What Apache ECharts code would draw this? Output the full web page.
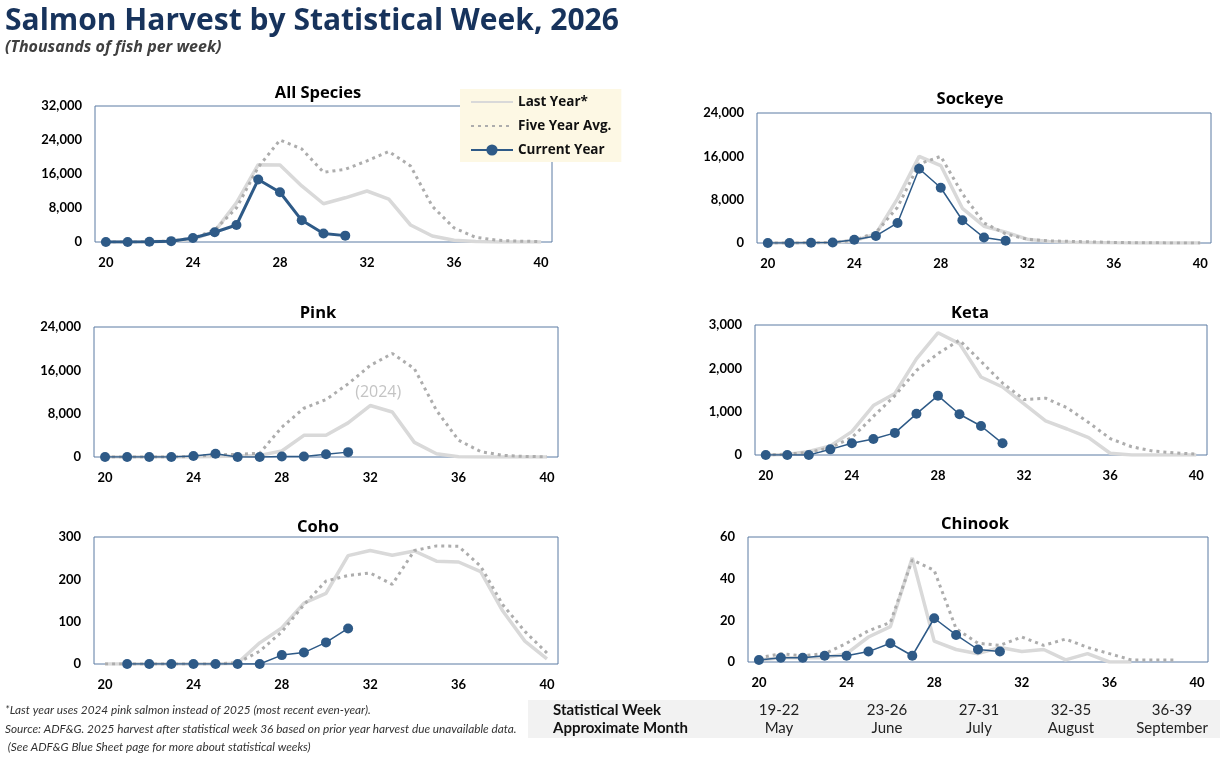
<!DOCTYPE html>
<html>
<head>
<meta charset="utf-8">
<script src="https://cdn.jsdelivr.net/npm/echarts@6/dist/echarts.min.js"></script>
<style>
  body { margin: 0; background: #fff; }
  #main { width: 1220px; height: 758px; }
</style>
</head>
<body>
<div id="main"></div>
<script>
// statistical weeks 20..40
var weeks = ['20','21','22','23','24','25','26','27','28','29','30','31','32','33','34','35','36','37','38','39','40'];

// All species (thousands of fish)
var allLast = [0, 0, 50, 200, 600, 2500, 9200, 18200, 18100, 13200, 9000, 10400, 12000, 10100, 4000, 1400, 400, 100, 0, 0, 0];
var allAvg  = [0, 0, 50, 250, 900, 2800, 8000, 17600, 24000, 21900, 16400, 17100, 19100, 21300, 17900, 8400, 3300, 1100, 400, 200, 100];
var allCur  = [0, 0, 50, 200, 950, 2300, 4000, 14700, 11700, 5100, 2000, 1500];

// Sockeye
var sockLast = [0, 0, 50, 100, 400, 1700, 8200, 16000, 14300, 6400, 3100, 2000, 700, 300, 150, 80, 30, 0, 0, 0, 0];
var sockAvg  = [0, 0, 50, 100, 500, 1900, 6600, 14600, 16000, 9100, 3700, 1700, 700, 400, 300, 200, 100, 60, 30, 10, 10];
var sockCur  = [0, 0, 50, 100, 600, 1300, 3700, 13700, 10200, 4200, 1000, 400];

// Pink (last year = 2024)
var pinkLast = [0, 0, 0, 0, 0, 100, 200, 300, 1100, 4000, 4000, 6300, 9500, 8300, 2700, 600, 50, 0, 0, 0, 0];
var pinkAvg  = [0, 0, 0, 0, 100, 400, 500, 700, 5500, 9000, 10600, 13500, 16900, 19100, 16300, 8600, 3100, 1000, 300, 100, 50];
var pinkCur  = [0, 0, 0, 0, 200, 600, 0, 0, 100, 100, 500, 900];

// Keta
var ketaLast = [0, 10, 80, 210, 540, 1140, 1420, 2220, 2820, 2570, 1800, 1570, 1180, 790, 600, 400, 40, 0, 0, 0, 0];
var ketaAvg  = [0, 20, 60, 170, 400, 890, 1370, 1950, 2340, 2650, 2160, 1660, 1280, 1310, 1090, 750, 380, 190, 90, 50, 20];
var ketaCur  = [0, 0, 0, 130, 270, 370, 510, 950, 1370, 940, 670, 270];

// Coho
var cohoLast = [0, 0, 0, 0, 0, 0, 2, 50, 85, 144, 167, 256, 268, 257, 267, 243, 241, 218, 125, 54, 12];
var cohoAvg  = [0, 0, 0, 0, 0, 0, 3, 30, 76, 140, 196, 209, 215, 188, 268, 279, 278, 231, 140, 77, 26];
var cohoCur  = [null, 0, 0, 0, 0, 0, 0, 0, 21, 27, 51, 84];

// Chinook
var chinLast = [1, 2, 2, 2, 4, 12, 17, 50, 10, 6, 4, 7, 5, 6, 1, 4, 0, 0, null, null, null];
var chinAvg  = [2, 4, 3, 4, 9, 15, 19, 49, 44, 16, 9, 8, 12, 8, 11, 7, 4, 1, 1, 1, null];
var chinCur  = [1, 2, 2, 3, 3, 5, 9, 3, 21, 13, 6, 5];

// bottom table
var tableWeeks  = ['19-22', '23-26', '27-31', '32-35', '36-39'];
var tableMonths = ['May', 'June', 'July', 'August', 'September'];
var tableX = [779, 887, 979, 1071, 1172];

var panels = [
  { title: 'All Species', last: allLast, avg: allAvg, cur: allCur, max: 32000, step: 8000, curW: 3,
    grid: { left: 95, top: 106, width: 457, height: 136 }, tx: 318, ty: 93 },
  { title: 'Sockeye', last: sockLast, avg: sockAvg, cur: sockCur, max: 24000, step: 8000, curW: 1.5,
    grid: { left: 757, top: 113, width: 454, height: 130 }, tx: 970, ty: 99 },
  { title: 'Pink', last: pinkLast, avg: pinkAvg, cur: pinkCur, max: 24000, step: 8000, curW: 1.5,
    grid: { left: 94, top: 327, width: 464, height: 130 }, tx: 318, ty: 313 },
  { title: 'Keta', last: ketaLast, avg: ketaAvg, cur: ketaCur, max: 3000, step: 1000, curW: 1.5,
    grid: { left: 755, top: 325, width: 452, height: 130 }, tx: 970, ty: 313 },
  { title: 'Coho', last: cohoLast, avg: cohoAvg, cur: cohoCur, max: 300, step: 100, curW: 1.5,
    grid: { left: 94, top: 537, width: 464, height: 127 }, tx: 318, ty: 527 },
  { title: 'Chinook', last: chinLast, avg: chinAvg, cur: chinCur, max: 60, step: 20, curW: 1.5,
    grid: { left: 748, top: 537, width: 460, height: 125 }, tx: 975, ty: 524 }
];

var navy = '#2e5a87';
var lightGray = '#d9d9d9';
var dotGray = '#adadad';
var font = 'Lato';
var headFont = '"Open Sans"';

var grids = [], xAxes = [], yAxes = [], series = [];
var graphics = [];

panels.forEach(function(p, i) {
  grids.push(Object.assign({ show: true, borderColor: '#5b7ba3', borderWidth: 1, backgroundColor: 'transparent' }, p.grid));
  xAxes.push({
    type: 'category', gridIndex: i, data: weeks, boundaryGap: true,
    axisLine: { show: false }, axisTick: { show: false },
    axisLabel: { interval: 3, color: '#000', fontWeight: 'bold', fontSize: 13, fontFamily: font, margin: 14 }
  });
  yAxes.push({
    type: 'value', gridIndex: i, min: 0, max: p.max, interval: p.step,
    axisLine: { show: false }, axisTick: { show: false }, splitLine: { show: false },
    axisLabel: { color: '#000', fontWeight: 'bold', fontSize: 13, fontFamily: font, margin: 13,
      formatter: function(v) { return v.toLocaleString('en-US'); } }
  });

  var isPink = p.title === 'Pink';
  var lastData = p.last;
  if (isPink) {
    // label the 2024 stand-in line at its peak
    lastData = p.last.map(function(v, k) {
      if (weeks[k] !== '32') return v;
      return { value: v, label: { show: true, formatter: '(2024)', position: 'top', distance: 5, offset: [8, 0],
        color: '#c4c4c4', fontSize: 16, fontFamily: '"Liberation Sans Narrow", "Open Sans"' } };
    });
  }

  series.push({
    name: 'Last Year*', type: 'line', xAxisIndex: i, yAxisIndex: i, data: lastData,
    symbol: isPink ? 'circle' : 'none', symbolSize: 0, silent: true, z: 1,
    lineStyle: { color: lightGray, width: 3.5 }, itemStyle: { color: lightGray }
  });
  series.push({
    name: 'Five Year Avg.', type: 'line', xAxisIndex: i, yAxisIndex: i, data: p.avg,
    symbol: 'none', silent: true, z: 2,
    lineStyle: { color: dotGray, width: 3, type: [3, 4] }, itemStyle: { color: dotGray }
  });
  series.push({
    name: 'Current Year', type: 'line', xAxisIndex: i, yAxisIndex: i, data: p.cur,
    symbol: 'circle', symbolSize: 10, silent: true, z: 3,
    lineStyle: { color: navy, width: p.curW }, itemStyle: { color: navy }
  });

  graphics.push({
    type: 'text', x: p.tx, y: p.ty,
    style: { text: p.title, font: 'bold 16.5px ' + headFont, fill: '#000', textAlign: 'center', align: 'center', textVerticalAlign: 'middle', verticalAlign: 'middle' }
  });
});

function txt(x, y, s, f, color, align) {
  return { type: 'text', x: x, y: y,
    style: { text: s, font: f, fill: color, textAlign: align || 'left', align: align || 'left', textVerticalAlign: 'middle', verticalAlign: 'middle' } };
}

// header
graphics.push(txt(5, 21, 'Salmon Harvest by Statistical Week, 2026', 'bold 30px ' + headFont, '#17335c'));
graphics.push(txt(5, 47, '(Thousands of fish per week)', 'italic bold 16px ' + headFont, '#404040'));

// footnotes
var noteFont = 'italic 11.8px ' + font;
graphics.push(txt(5, 710, '*Last year uses 2024 pink salmon instead of 2025 (most recent even-year).', noteFont, '#333'));
graphics.push(txt(5, 729, 'Source: ADF&G. 2025 harvest after statistical week 36 based on prior year harvest due unavailable data.', noteFont, '#333'));
graphics.push(txt(5, 747, ' (See ADF&G Blue Sheet page for more about statistical weeks)', noteFont, '#333'));

// week / month table
graphics.push({ type: 'rect', shape: { x: 528, y: 700, width: 692, height: 38 }, style: { fill: '#f2f2f2' }, z: -1 });
graphics.push(txt(553, 710, 'Statistical Week', 'bold 15px ' + font, '#111'));
graphics.push(txt(553, 728, 'Approximate Month', 'bold 15px ' + font, '#111'));
tableWeeks.forEach(function(w, k) {
  graphics.push(txt(tableX[k], 710, w, '15px ' + font, '#222', 'center'));
  graphics.push(txt(tableX[k], 728, tableMonths[k], '15px ' + font, '#222', 'center'));
});

var legendFont = { color: '#111', fontWeight: 'bold', fontSize: 13.5, fontFamily: headFont };
var chart = echarts.init(document.getElementById('main'));
chart.setOption({
  animation: false,
  backgroundColor: '#fff',
  legend: {
    data: [
      { name: 'Last Year*', itemStyle: { opacity: 0 } },
      { name: 'Five Year Avg.', itemStyle: { opacity: 0 } },
      { name: 'Current Year' }
    ],
    orient: 'vertical', left: 460, top: 89,
    padding: [6, 10, 5, 10], itemGap: 10, itemWidth: 42, itemHeight: 14,
    backgroundColor: '#fdf8e4', selectedMode: false,
    textStyle: legendFont
  },
  grid: grids,
  xAxis: xAxes,
  yAxis: yAxes,
  series: series,
  graphic: graphics
});
</script>
</body>
</html>
